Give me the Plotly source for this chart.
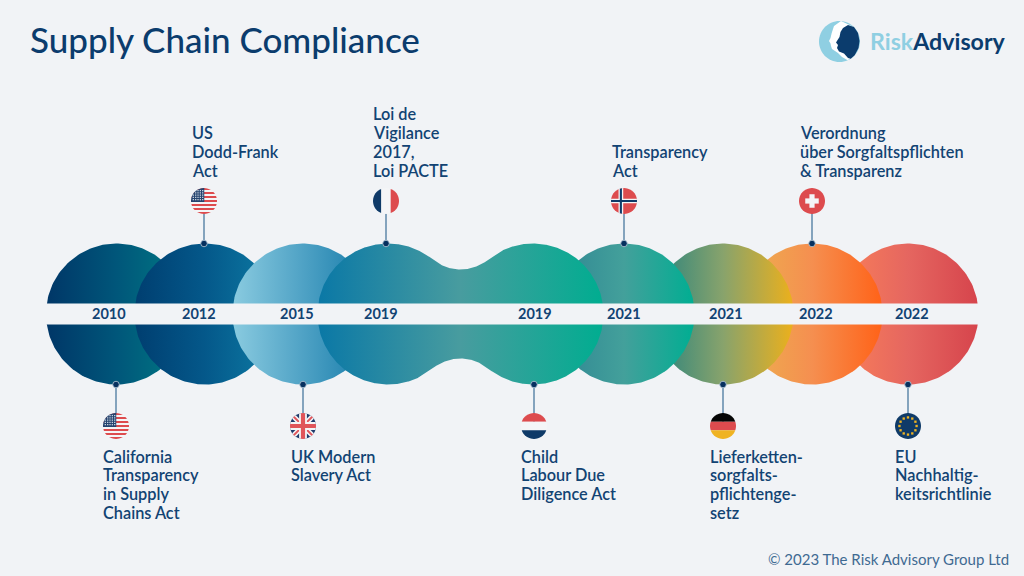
import numpy as np
import plotly.graph_objects as go

BG = "#f1f3f6"
NAVY = "#0f3a68"
RED = "#dd4b4e"
WHITE = "#f4f5f7"
INK = "#124373"
FONT = "Lato"

# timeline blobs, drawn in this order (later ones sit on top)
BLOB_CENTRES = [[116.5], [205], [303], [908], [812], [723], [624], [388, 533]]
BLOB_COLOURS = [
    ["#003667", "#00567a", "#007a84"],
    ["#003e70", "#04588a", "#0d7ba4"],
    ["#8acbe0", "#4fa2c5", "#1379a8"],
    ["#fa8058", "#e56660", "#d6444c"],
    ["#ecb14f", "#f58f50", "#ff6218"],
    ["#27827e", "#88a36c", "#ecb01c"],
    ["#2f8592", "#43a09b", "#00ae92"],
    ["#0a78a6", "#489c9f", "#00ad90"],
]

YEARS = ["2010", "2012", "2015", "2019", "2019", "2021", "2021", "2022", "2022"]
YEAR_X = [109, 199, 297, 381, 535, 624, 726, 816, 912]

# acts: stem position, flag, label left edge, label lines
TOP_X = [204, 386, 624, 812]
TOP_FLAGS = ["us", "fr", "no", "ch"]
TOP_LABEL_X = [190, 371, 610, 798]
TOP_LABELS = [
    ["US", "Dodd-Frank", "Act"],
    ["Loi de", "Vigilance", "2017,", "Loi PACTE"],
    ["Transparency", "Act"],
    ["Verordnung", "über Sorgfaltspflichten", "& Transparenz"],
]
BOTTOM_X = [116, 303, 534, 723, 908]
BOTTOM_FLAGS = ["us", "uk", "nl", "de", "eu"]
BOTTOM_LABEL_X = [101, 289, 519, 708, 893]
BOTTOM_LABELS = [
    ["California", "Transparency", "in Supply", "Chains Act"],
    ["UK Modern", "Slavery Act"],
    ["Child", "Labour Due", "Diligence Act"],
    ["Lieferketten-", "sorgfalts-", "pflichtenge-", "setz"],
    ["EU", "Nachhaltig-", "keitsrichtlinie"],
]

# layout in page pixels
MID_Y = 314
R = 70.5
NECK = 44.5
BAND = 10.5
TOP_FLAG_Y = 201
BOTTOM_FLAG_Y = 426
FLAG_R = 13
LINE_H = 18.7


def blob_outline(centres):
    # one circle, or two joined by a concave fillet
    if len(centres) == 1:
        t = np.linspace(0, 2 * np.pi, 200)
        return centres[0] + R * np.cos(t), MID_Y + R * np.sin(t)
    a, b = centres
    gap = (b - a) / 2
    rf = (gap**2 + NECK**2 - R**2) / (2 * (R - NECK))
    d = NECK + rf
    mid = (a + b) / 2
    x_tan = gap * rf / (R + rf)
    xs = np.linspace(a - R, b + R, 500)

    def half(x):
        off = np.abs(x - mid)
        out = np.empty_like(x)
        inner = off < x_tan
        out[inner] = d - np.sqrt(rf**2 - off[inner] ** 2)
        out[~inner] = np.sqrt(np.maximum(R**2 - (off[~inner] - gap) ** 2, 0))
        return out

    h = half(xs)
    return np.r_[xs, xs[::-1]], np.r_[MID_Y - h, MID_Y + h[::-1]]


def circle_pts(r=1.0, cx=0.0, cy=0.0, n=40):
    t = np.linspace(0, 2 * np.pi, n, endpoint=False)
    return [(cx + r * np.cos(a), cy + r * np.sin(a)) for a in t]


def clip(pts, corners):
    # clip a convex outline with a convex polygon (clockwise on screen)
    for (ax, ay), (bx, by) in zip(corners, corners[1:] + corners[:1]):
        side = lambda p: (bx - ax) * (p[1] - ay) - (by - ay) * (p[0] - ax)
        out = []
        for i, p in enumerate(pts):
            q = pts[(i + 1) % len(pts)]
            sp, sq = side(p), side(q)
            if sp >= 0:
                out.append(p)
            if sp * sq < 0:
                k = sp / (sp - sq)
                out.append((p[0] + k * (q[0] - p[0]), p[1] + k * (q[1] - p[1])))
        pts = out
        if not pts:
            break
    return pts


def rect(x0, y0, x1, y1):
    return [(x0, y0), (x1, y0), (x1, y1), (x0, y1)]


def bar(angle, w):
    c, s = np.cos(angle), np.sin(angle)
    return [(-2 * c + w * s, -2 * s - w * c), (2 * c + w * s, 2 * s - w * c),
            (2 * c - w * s, 2 * s + w * c), (-2 * c - w * s, -2 * s + w * c)]


def flag_parts(name):
    if name == "us":
        parts = [(WHITE, rect(-1, -1, 1, 1))]
        for i in range(0, 13, 2):
            parts.append((RED, rect(-1, -1 + i * 2 / 13, 1, -1 + (i + 1) * 2 / 13)))
        parts.append(("#24436f", rect(-1, -1, 0.02, 0.08)))
        for gx in np.linspace(-0.82, -0.1, 5):
            for gy in np.linspace(-0.8, -0.1, 5):
                parts.append(("#c9d3de", rect(gx - 0.05, gy - 0.05, gx + 0.05, gy + 0.05)))
        return parts
    if name == "fr":
        return [(NAVY, rect(-1, -1, -0.36, 1)), (WHITE, rect(-0.36, -1, 0.36, 1)), (RED, rect(0.36, -1, 1, 1))]
    if name == "nl":
        return [(RED, rect(-1, -1, 1, -0.33)), (WHITE, rect(-1, -0.33, 1, 0.33)), (NAVY, rect(-1, 0.33, 1, 1))]
    if name == "de":
        return [("#050505", rect(-1, -1, 1, -0.33)), (RED, rect(-1, -0.33, 1, 0.33)), ("#efb323", rect(-1, 0.33, 1, 1))]
    if name == "no":
        return [(RED, rect(-1, -1, 1, 1)),
                (WHITE, rect(-0.42, -1, -0.06, 1)), (WHITE, rect(-1, -0.18, 1, 0.18)),
                (NAVY, rect(-0.32, -1, -0.16, 1)), (NAVY, rect(-1, -0.08, 1, 0.08))]
    if name == "ch":
        return [(RED, rect(-1, -1, 1, 1)),
                (WHITE, rect(-0.2, -0.52, 0.2, 0.52)), (WHITE, rect(-0.52, -0.2, 0.52, 0.2))]
    if name == "uk":
        d = np.pi / 4
        return [("#1d3a6b", rect(-1, -1, 1, 1)),
                (WHITE, bar(d, 0.2)), (WHITE, bar(-d, 0.2)),
                ("#e0555a", bar(d, 0.08)), ("#e0555a", bar(-d, 0.08)),
                (WHITE, rect(-0.3, -1, 0.3, 1)), (WHITE, rect(-1, -0.3, 1, 0.3)),
                ("#e0555a", rect(-0.16, -1, 0.16, 1)), ("#e0555a", rect(-1, -0.16, 1, 0.16))]
    if name == "eu":
        parts = [(NAVY, rect(-1, -1, 1, 1))]
        for a in np.arange(12) * np.pi / 6:
            sx, sy = 0.66 * np.cos(a), 0.66 * np.sin(a)
            parts.append(("#efb323", rect(sx - 0.09, sy - 0.09, sx + 0.09, sy + 0.09)))
        return parts
    return []


def svg_path(pts):
    return "M" + "L".join(f"{x:.2f},{y:.2f}" for x, y in pts) + "Z"


def flag_shapes(name, cx, cy):
    shapes = []
    for colour, corners in flag_parts(name):
        pts = clip(circle_pts(), corners)
        pts = [(cx + FLAG_R * x, cy + FLAG_R * y) for x, y in pts]
        shapes.append(dict(type="path", path=svg_path(pts), fillcolor=colour,
                           line_width=0, layer="above"))
    return shapes


fig = go.Figure()

for centres, colours in zip(BLOB_CENTRES, BLOB_COLOURS):
    x, y = blob_outline(centres)
    fig.add_trace(go.Scatter(
        x=x, y=y, mode="lines", fill="toself", line=dict(width=0),
        fillgradient=dict(type="horizontal",
                          colorscale=[[0, colours[0]], [0.5, colours[1]], [1, colours[2]]]),
        hoverinfo="skip", showlegend=False,
    ))

# stems and the dots on the blob edge
stem_x, stem_y = [], []
for sx in TOP_X:
    stem_x += [sx, sx, None]
    stem_y += [MID_Y - R, TOP_FLAG_Y, None]
for sx in BOTTOM_X:
    stem_x += [sx, sx, None]
    stem_y += [MID_Y + R, BOTTOM_FLAG_Y, None]
fig.add_trace(go.Scatter(x=stem_x, y=stem_y, mode="lines", line=dict(color="#5f88aa", width=1.5),
                         hoverinfo="skip", showlegend=False))
fig.add_trace(go.Scatter(
    x=TOP_X + BOTTOM_X,
    y=[MID_Y - R] * len(TOP_X) + [MID_Y + R] * len(BOTTOM_X),
    mode="markers", marker=dict(size=6.5, color="#06305f", line=dict(color="#b9cbd9", width=0.8)),
    hoverinfo="skip", showlegend=False,
))

shapes = [dict(type="rect", x0=0, x1=1024, y0=MID_Y - BAND, y1=MID_Y + BAND,
               fillcolor=BG, line_width=0, layer="above")]
for name, sx in zip(TOP_FLAGS, TOP_X):
    shapes += flag_shapes(name, sx, TOP_FLAG_Y)
for name, sx in zip(BOTTOM_FLAGS, BOTTOM_X):
    shapes += flag_shapes(name, sx, BOTTOM_FLAG_Y)

# logo: pale disc, white profile, dark profile
LOGO_C = (839.5, 41.5)
LOGO_R = 20.5
logo_disc = circle_pts(LOGO_R, LOGO_C[0], LOGO_C[1], 60)
white_face = [(841, 21), (834, 26), (831.7, 33), (830.5, 38), (829, 41), (830.5, 43.5), (831, 46),
              (832, 49), (835, 51), (838, 53), (842, 57), (848, 61), (860, 60), (862, 20)]
dark_face = [(848, 25), (843, 28), (840.5, 32), (839.5, 37), (836, 42.5), (838, 45), (837, 48),
             (839, 51.5), (844, 53.5), (848, 58), (851, 59), (855, 55.5), (858.5, 48), (859.5, 41),
             (858, 33), (854, 27)]


def inside_disc(pts):
    out = []
    for x, y in pts:
        dx, dy = x - LOGO_C[0], y - LOGO_C[1]
        k = min(1.0, LOGO_R / np.hypot(dx, dy))
        out.append((LOGO_C[0] + dx * k, LOGO_C[1] + dy * k))
    return out


shapes.append(dict(type="path", path=svg_path(logo_disc), fillcolor="#8fcfe2", line_width=0, layer="above"))
shapes.append(dict(type="path", path=svg_path(inside_disc(white_face)), fillcolor="#ffffff", line_width=0, layer="above"))
shapes.append(dict(type="path", path=svg_path(inside_disc(dark_face)), fillcolor="#0b3c6d", line_width=0, layer="above"))

annotations = []


def add_text(x, y, text, size, color=INK, anchor="left", weight=600):
    annotations.append(dict(
        x=x, y=y, text=text, showarrow=False, xanchor=anchor, yanchor="middle",
        xref="x", yref="y", font=dict(family=FONT, size=size, color=color, weight=weight),
    ))


add_text(28, 38.5, "Supply Chain Compliance", 35, color="#0b3c6d", weight=500)
add_text(868, 41, "<span style='color:#8fcfe2'>Risk</span>Advisory", 23.2, color="#0b3c6d", weight=700)
add_text(1011, 559, "© 2023 The Risk Advisory Group Ltd", 15, color="#3f6a92", anchor="right", weight=400)

for year, yx in zip(YEARS, YEAR_X):
    add_text(yx, MID_Y - 1, year, 14.5, anchor="center", weight=700)
for lx, lines in zip(TOP_LABEL_X, TOP_LABELS):
    for i, line in enumerate(lines):
        add_text(lx, 170 - LINE_H * (len(lines) - 1 - i), line, 16.3)
for lx, lines in zip(BOTTOM_LABEL_X, BOTTOM_LABELS):
    for i, line in enumerate(lines):
        add_text(lx, 456 + LINE_H * i, line, 16.3)

fig.update_layout(
    width=1024, height=576, margin=dict(l=0, r=0, t=0, b=0),
    paper_bgcolor=BG, plot_bgcolor=BG, showlegend=False,
    xaxis=dict(range=[0, 1024], visible=False, fixedrange=True),
    yaxis=dict(range=[576, 0], visible=False, fixedrange=True),
    shapes=shapes, annotations=annotations,
)

fig.write_html("out.html", config={"displayModeBar": False},
               post_script="document.body.style.margin='0';document.body.style.background='" + BG + "';")
